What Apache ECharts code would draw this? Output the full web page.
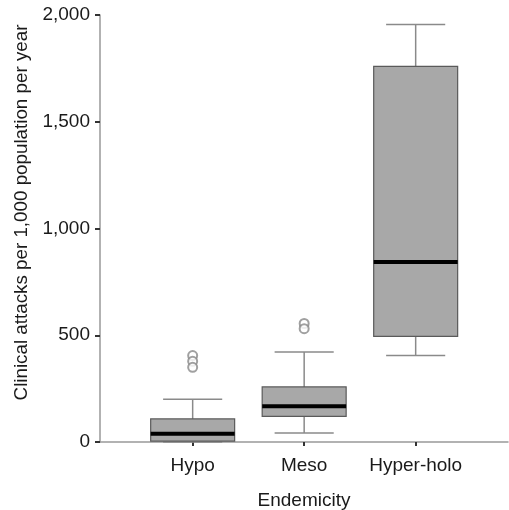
<!DOCTYPE html>
<html>
<head>
<meta charset="utf-8">
<script src="https://cdn.jsdelivr.net/npm/echarts@6/dist/echarts.min.js"></script>
<style>
  html, body { margin: 0; padding: 0; background: #fff; }
  #main { width: 509px; height: 510px; }
</style>
</head>
<body>
<div id="main"></div>
<script>
// 数据
var categories = ['Hypo', 'Meso', 'Hyper-holo'];
var lowWhisker = [0, 42, 405];
var q1 = [4, 120, 495];
var median = [39, 167, 843];
var q3 = [108, 258, 1759];
var highWhisker = [200, 422, 1956];
var outliers = [[1, 405], [1, 378], [1, 350], [2, 555], [2, 531]];
var yTicks = [0, 500, 1000, 1500, 2000];

var boxData = categories.map(function (c, i) {
    return [i + 1, lowWhisker[i], q1[i], median[i], q3[i], highWhisker[i]];
});

var myChart = echarts.init(document.getElementById('main'));

function renderBox(params, api) {
    var x = api.value(0);
    var boxW = api.size([0.753, 0])[0];
    var capW = api.size([0.53, 0])[0];
    var pLow = api.coord([x, api.value(1)]);
    var pQ1 = api.coord([x, api.value(2)]);
    var pMed = api.coord([x, api.value(3)]);
    var pQ3 = api.coord([x, api.value(4)]);
    var pHigh = api.coord([x, api.value(5)]);
    var cx = pMed[0];
    var whisker = { stroke: '#8a8a8a', lineWidth: 1.5 };
    return {
        type: 'group',
        children: [
            { type: 'line', shape: { x1: cx, y1: pLow[1], x2: cx, y2: pQ1[1] }, style: whisker },
            { type: 'line', shape: { x1: cx, y1: pQ3[1], x2: cx, y2: pHigh[1] }, style: whisker },
            { type: 'line', shape: { x1: cx - capW / 2, y1: pLow[1], x2: cx + capW / 2, y2: pLow[1] }, style: whisker },
            { type: 'line', shape: { x1: cx - capW / 2, y1: pHigh[1], x2: cx + capW / 2, y2: pHigh[1] }, style: whisker },
            {
                type: 'rect',
                shape: { x: cx - boxW / 2, y: pQ3[1], width: boxW, height: pQ1[1] - pQ3[1] },
                style: { fill: '#a8a8a8', stroke: '#5a5a5a', lineWidth: 1.2 }
            },
            {
                type: 'line',
                shape: { x1: cx - boxW / 2, y1: pMed[1], x2: cx + boxW / 2, y2: pMed[1] },
                style: { stroke: '#000', lineWidth: 4 }
            }
        ]
    };
}

var option = {
    backgroundColor: '#fff',
    animation: false,
    grid: { left: 100, right: 1, top: 15, bottom: 68, outerBoundsMode: 'none', containLabel: false },
    xAxis: {
        type: 'value',
        min: 0.169,
        max: 3.828,
        name: 'Endemicity',
        nameLocation: 'middle',
        nameGap: 49,
        nameTextStyle: { fontFamily: 'Liberation Sans', fontSize: 19, color: '#1a1a1a' },
        axisLine: { show: true, lineStyle: { color: '#999', width: 1.5 } },
        axisTick: { show: true, customValues: [1, 2, 3], length: 4, lineStyle: { color: '#333', width: 2 } },
        axisLabel: {
            customValues: [1, 2, 3],
            formatter: function (v) { return categories[Math.round(v) - 1]; },
            fontFamily: 'Liberation Sans',
            fontSize: 19,
            color: '#1a1a1a',
            margin: 14
        },
        splitLine: { show: false }
    },
    yAxis: {
        type: 'value',
        min: 0,
        max: 2000,
        interval: 500,
        name: 'Clinical attacks per 1,000 population per year',
        nameLocation: 'middle',
        nameRotate: 90,
        nameGap: 65,
        nameTextStyle: { fontFamily: 'Liberation Sans', fontSize: 18.8, color: '#1a1a1a', padding: [0, 0, 0, 32] },
        axisLine: { show: true, lineStyle: { color: '#999', width: 1.5 } },
        axisTick: { show: true, length: 5, lineStyle: { color: '#333', width: 2 } },
        axisLabel: {
            fontFamily: 'Liberation Sans',
            fontSize: 19,
            color: '#1a1a1a',
            margin: 10,
            formatter: function (v) { return yTicks.indexOf(v) >= 0 ? v.toLocaleString('en-US') : ''; }
        },
        splitLine: { show: false }
    },
    series: [
        {
            type: 'custom',
            renderItem: renderBox,
            encode: { x: 0, y: [1, 2, 3, 4, 5] },
            data: boxData,
            silent: true
        },
        {
            type: 'scatter',
            data: outliers,
            symbol: 'emptyCircle',
            symbolSize: 9,
            itemStyle: { color: '#888', borderColor: '#888', borderWidth: 1.3 },
            silent: true
        }
    ]
};

myChart.setOption(option);
</script>
</body>
</html>
